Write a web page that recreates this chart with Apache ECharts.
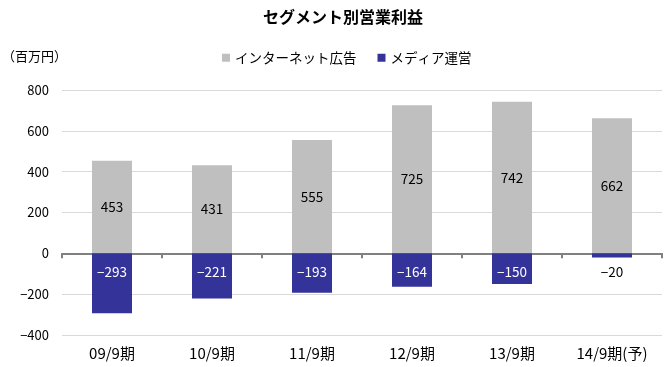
<!DOCTYPE html>
<html><head><meta charset="utf-8">
<script src="https://cdn.jsdelivr.net/npm/echarts@6/dist/echarts.min.js"></script>
<style>html,body{margin:0;padding:0;background:#fff}#c{width:668px;height:367px}</style>
</head><body><div id="c"></div>
<script>
const categories = ['09/9期','10/9期','11/9期','12/9期','13/9期','14/9期(予)'];
const internetAd = [453, 431, 555, 725, 742, 662];
const mediaOps = [-293, -221, -193, -164, -150, -20];
const yTicks = [-400, 800, 200];
const FONT = '"Noto Sans CJK JP", sans-serif';
const fmtNum = v => (v < 0 ? '\u2212' + Math.abs(v) : String(v));

const chart = echarts.init(document.getElementById('c'), null, {renderer:'canvas'});
chart.setOption({
  animation:false,
  backgroundColor:'#fff',
  textStyle:{fontFamily:FONT},
  title:{text:'セグメント別営業利益', left:258, top:4,
    textStyle:{fontFamily:FONT, fontSize:16, fontWeight:'bold', color:'#000'}},
  legend:{top:46, left:217, itemWidth:8, itemHeight:8, itemGap:21, icon:'rect',
    textStyle:{fontFamily:FONT, fontSize:13.5, color:'#000'},
    data:['インターネット広告','メディア運営']},
  graphic:[{type:'text', left:2, top:50, style:{text:'（百万円）', font:'13px '+FONT, fill:'#000'}}],
  grid:{left:62, right:6, top:90, bottom:32, containLabel:false},
  xAxis:[{
    type:'category', data:categories,
    axisLine:{onZero:true, lineStyle:{color:'#808080', width:2}},
    axisTick:{show:true, length:5, lineStyle:{color:'#808080', width:2}},
    axisLabel:{show:false}
  },{
    type:'category', data:categories, position:'bottom',
    axisLine:{show:false}, axisTick:{show:false},
    axisLabel:{show:true, margin:11, fontFamily:FONT, fontSize:15, color:'#000'}
  }],
  yAxis:{type:'value', min:yTicks[0], max:yTicks[1], interval:yTicks[2],
    axisLine:{show:false}, axisTick:{show:false},
    axisLabel:{margin:13, fontFamily:FONT, fontSize:13, color:'#000', formatter:fmtNum},
    splitLine:{lineStyle:{color:'#D9D9D9', width:1}}},
  series:[{
    name:'インターネット広告', type:'bar', stack:'s', barWidth:40,
    itemStyle:{color:'#BFBFBF'}, data:internetAd,
    label:{show:true, position:'inside', color:'#000', fontFamily:FONT, fontSize:13.5,
      formatter:p => fmtNum(p.value)}
  },{
    name:'メディア運営', type:'bar', stack:'s', barWidth:40,
    itemStyle:{color:'#333399'},
    data:mediaOps.map(v => Math.abs(v) < 50
      ? {value:v, label:{color:'#000'}}
      : {value:v}),
    label:{show:true, position:'insideTop', distance:12, color:'#fff', fontFamily:FONT, fontSize:13.5,
      formatter:p => fmtNum(p.value)}
  }]
});
</script></body></html>
